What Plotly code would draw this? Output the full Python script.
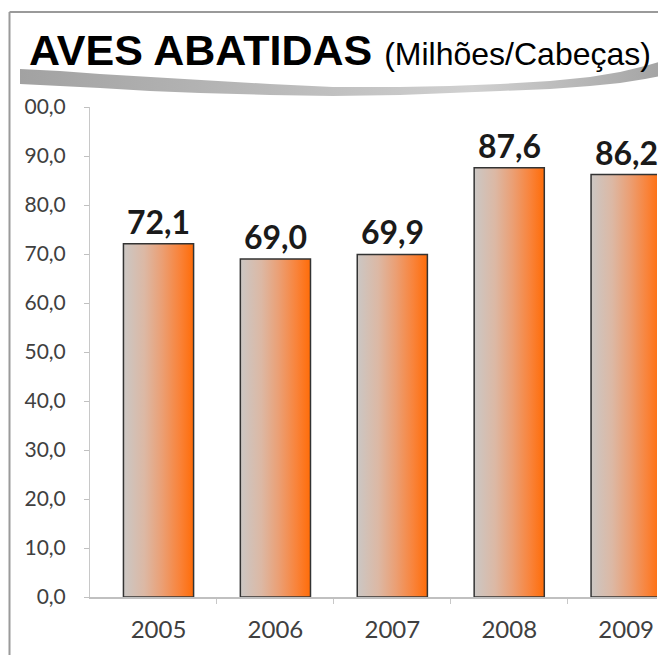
import plotly.graph_objects as go

# data
years = ["2005", "2006", "2007", "2008", "2009"]
values = [72.1, 69.0, 69.9, 87.6, 86.2]
y_ticks = [0, 10, 20, 30, 40, 50, 60, 70, 80, 90, 100]
y_tick_labels = ["0,0", "10,0", "20,0", "30,0", "40,0", "50,0", "60,0", "70,0", "80,0", "90,0", "100,0"]

# the page body has an 8px margin, so the figure is drawn 8px in from the window corner
OFF = 8
W, H = 666 - OFF, 655 - OFF
BAR_W = 0.6
BAR_SCALE = [[0.0, "#cbc7c4"], [0.3, "#dcb8a4"], [0.55, "#eb9f74"], [0.8, "#f9833a"], [1.0, "#ff6c08"]]
SWOOSH_SCALE = [[0.0, "#a2a2a2"], [0.4, "#bababa"], [0.7, "#d0d0d0"], [1.0, "#a3a3a3"]]


def px(x):
    return (x - OFF) / W


def py(y):
    return 1 - (y - OFF) / H


fig = go.Figure()

# bars with a horizontal gradient fill
hw = BAR_W / 2
for i, v in enumerate(values):
    fig.add_trace(go.Scatter(
        x=[i - hw, i - hw, i + hw, i + hw, i - hw],
        y=[0, v, v, 0, 0],
        mode="lines",
        fill="toself",
        fillgradient=dict(type="horizontal", colorscale=BAR_SCALE),
        line=dict(color="#333333", width=1.5),
        hoverinfo="skip",
        showlegend=False,
    ))

# grey swoosh under the heading (window pixel space overlay)
top = [(20, 69), (60, 71), (100, 74), (150, 77), (200, 80), (270, 84), (333, 87), (400, 87),
       (450, 86), (500, 84), (550, 81), (590, 77), (620, 72), (645, 66), (666, 60)]
bot = [(666, 75), (645, 79), (620, 83), (590, 86), (550, 89), (500, 91), (450, 93), (400, 95),
       (333, 96), (270, 95), (200, 93), (150, 91), (100, 88), (60, 86), (20, 84)]
pts = top + bot + [top[0]]
fig.add_trace(go.Scatter(
    x=[p[0] for p in pts], y=[p[1] for p in pts],
    xaxis="x2", yaxis="y2",
    mode="lines", fill="toself",
    fillgradient=dict(type="horizontal", colorscale=SWOOSH_SCALE),
    line=dict(width=0),
    hoverinfo="skip", showlegend=False,
))

# value labels
for i, v in enumerate(values):
    fig.add_annotation(
        x=i, y=v, xref="x", yref="y",
        text=f"{v:.1f}".replace(".", ","),
        showarrow=False, yanchor="bottom", yshift=1,
        font=dict(family="Lato", size=32, color="#1a1a1a", weight="bold"),
    )

# heading
fig.add_annotation(
    x=px(27), y=py(50), xref="paper", yref="paper",
    xanchor="left", yanchor="middle", showarrow=False,
    text="<b>AVES ABATIDAS</b> <span style='font-size:32px'>(Milhões/Cabeças)</span>",
    font=dict(family="Liberation Sans, Arial", size=43, color="#000000"),
)

fig.update_layout(
    width=W, height=H,
    margin=dict(l=0, r=0, t=0, b=0, pad=0),
    paper_bgcolor="white", plot_bgcolor="rgba(0,0,0,0)",
    xaxis=dict(
        domain=[px(90), px(657)], range=[-0.586, 4.264], automargin=False,
        tickmode="array", tickvals=list(range(len(years))), ticktext=years,
        ticks="", showgrid=False, zeroline=False,
        showline=True, linecolor="#c0c0c0", linewidth=1.5,
        minor=dict(tickmode="array", tickvals=[i + 0.5 for i in range(len(years) - 1)],
                   ticks="outside", ticklen=5, tickcolor="#c8c8c8", showgrid=False),
        tickfont=dict(family="Lato", size=24, color="#404040"),
        ticklabelstandoff=10,
    ),
    yaxis=dict(
        domain=[py(597), py(107)], range=[0, 100], automargin=False,
        tickmode="array", tickvals=y_ticks, ticktext=y_tick_labels,
        ticks="outside", ticklen=5, tickcolor="#c0c0c0",
        showgrid=False, zeroline=False,
        showline=True, linecolor="#c8c8c8", linewidth=1,
        tickfont=dict(family="Lato", size=21, color="#404040"),
        ticklabelstandoff=14,
    ),
    xaxis2=dict(domain=[0, 1], range=[OFF, 666], visible=False, anchor="y2", automargin=False),
    yaxis2=dict(domain=[0, 1], range=[655, OFF], visible=False, anchor="x2", automargin=False),
    shapes=[
        # crop edge of the original chart image
        dict(type="rect", xref="paper", yref="paper", x0=px(10), x1=px(24), y0=py(655), y1=py(96),
             fillcolor="white", line=dict(width=0), layer="above"),
        # frame
        dict(type="line", xref="paper", yref="paper", x0=px(9.5), x1=px(666), y0=py(12), y1=py(12),
             line=dict(color="#9a9a9a", width=2), layer="above"),
        dict(type="line", xref="paper", yref="paper", x0=px(9.5), x1=px(9.5), y0=py(12), y1=py(655),
             line=dict(color="#9a9a9a", width=2), layer="above"),
    ],
)

fig.write_html("out.html")
